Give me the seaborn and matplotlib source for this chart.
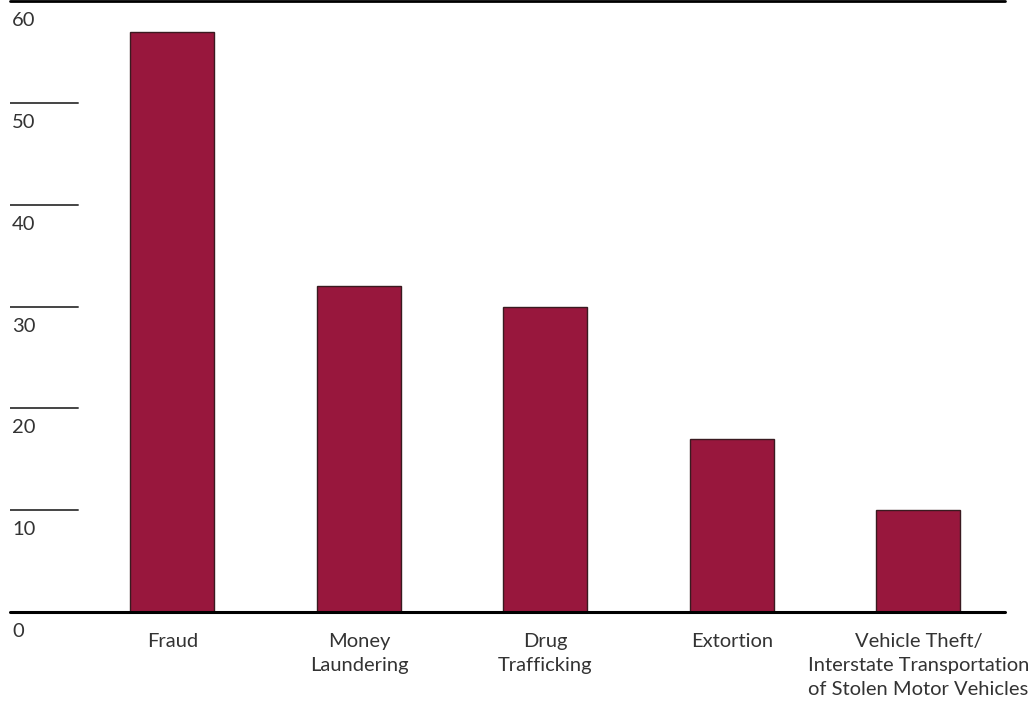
import matplotlib
matplotlib.use("Agg")
import matplotlib.pyplot as plt
import seaborn as sns
import pandas as pd

categories = ["Fraud", "Money\nLaundering", "Drug\nTrafficking", "Extortion",
              "Vehicle Theft/\nInterstate Transportation\nof Stolen Motor Vehicles"]
values = [57, 32, 30, 17, 10]
y_ticks = [0, 10, 20, 30, 40, 50, 60]

sns.set_theme(style="white")
plt.rcParams['font.family'] = ['Lato', 'DejaVu Sans']

BAR = "#98173D"
TXT = "#333333"

fig = plt.figure(figsize=(10.34, 7.08), dpi=100)
ax = fig.add_axes([10/1034, 1 - 612/708, 995/1034, 611/708])

df = pd.DataFrame({"cat": categories, "val": values})
sns.barplot(data=df, x="cat", y="val", color=BAR, width=0.45,
            edgecolor="#3a1a20", linewidth=1.0, saturation=1, ax=ax)

ax.set_ylim(0, 60)
ax.set_xlim(-0.871, 4.464)
for s in ax.spines.values():
    s.set_visible(False)
ax.set_xlabel("")
ax.set_ylabel("")
ax.set_yticks([])
ax.tick_params(axis="x", length=0, pad=15, labelsize=14.5, labelcolor=TXT)
for lab in ax.get_xticklabels():
    lab.set_linespacing(1.5)

# full-width lines
ax.axhline(0, color="black", lw=2.2, zorder=5, clip_on=False)
ax.axhline(60, color="black", lw=2.0, zorder=5, clip_on=False)
# short tick lines
for v in y_ticks[1:-1]:
    ax.axhline(v, xmin=0, xmax=0.068, color="#444444", lw=1.4, zorder=5)
for v in y_ticks:
    ax.annotate(str(v), xy=(0, v), xycoords=("axes fraction", "data"),
                xytext=(2, -11), textcoords="offset pixels",
                ha="left", va="top", fontsize=14.5, color=TXT)

fig.savefig("out.png", dpi=100)
